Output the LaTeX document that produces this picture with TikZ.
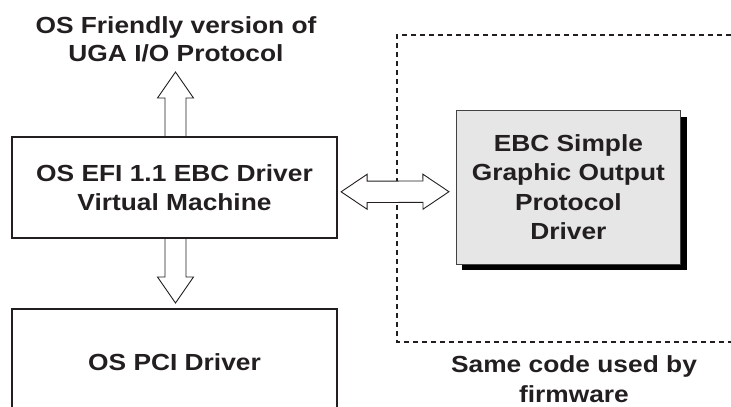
\documentclass[tikz,border=0pt]{standalone}
\usepackage{fontspec}
\setmainfont{Liberation Sans}
\usetikzlibrary{calc,shadows}

\pgfdeclarelayer{frame}
\pgfdeclarelayer{links}
\pgfsetlayers{frame,links,main}

\definecolor{ink}{HTML}{231F20}
\definecolor{panel}{HTML}{E6E6E6}

\newcommand\lblfont{\fontsize{23.3}{29.5}\selectfont\bfseries}
\newcommand\titlefont{\fontsize{23.3}{28}\selectfont\bfseries}

% hollow block arrow from #1 (open base) to #2 (tip)
\newcommand\hollowarrow[2]{%
  \path ($(#2)!26pt!(#1)$) coordinate (hb);
  \draw[hollow] ($(#1)!10.5pt!90:(#2)$) -- ($(hb)!10.5pt!90:(#2)$)
    -- ($(hb)!18pt!90:(#2)$) -- (#2) -- ($(hb)!18pt!-90:(#2)$)
    -- ($(hb)!10.5pt!-90:(#2)$) -- ($(#1)!10.5pt!-90:(#2)$);
}
% hollow block arrow with tips at both #1 and #2
\newcommand\hollowdouble[2]{%
  \path ($(#1)!26pt!(#2)$) coordinate (ha) ($(#2)!26pt!(#1)$) coordinate (hb);
  \draw[hollow] (#1) -- ($(ha)!17.5pt!90:(#2)$) -- ($(ha)!10.7pt!90:(#2)$)
    -- ($(hb)!10.7pt!90:(#2)$) -- ($(hb)!17.5pt!90:(#2)$) -- (#2)
    -- ($(hb)!17.5pt!-90:(#2)$) -- ($(hb)!10.7pt!-90:(#2)$)
    -- ($(ha)!10.7pt!-90:(#2)$) -- ($(ha)!17.5pt!-90:(#2)$) -- cycle;
}

\tikzset{
  txt/.style={text=ink, align=center, inner sep=0pt, xscale=1.13, transform shape},
  box/.style={txt, draw=ink, line width=2pt, font=\lblfont},
  hollow/.style={draw=ink, fill=white, line width=0.9pt, line join=miter},
  fwframe/.style={draw=ink, line width=2pt, dash pattern=on 5pt off 4pt},
}

\begin{document}
\begin{tikzpicture}[x=1pt, y=-1pt]
  \useasboundingbox (0,0) rectangle (731,407);

  % text and boxes
  \node[txt, font=\titlefont] (title) at (176,39)
    {OS Friendly version of\\UGA I/O Protocol};
  \node[box, minimum width=287.6pt, minimum height=101pt] (vm) at (174.5,187.5)
    {OS EFI 1.1 EBC Driver\\Virtual Machine};
  \node[box, minimum width=287.6pt, minimum height=107pt] (pci) at (174.5,362.5)
    {OS PCI Driver};
  \node[box, line width=0.8pt, draw=ink!85, fill=panel,
        minimum width=199.1pt, minimum height=153.3pt,
        drop shadow={shadow xshift=6pt, shadow yshift=-6pt, fill=black, opacity=1}]
    (sgo) at (568.4,187.4)
    {EBC Simple\\Graphic Output\\Protocol\\Driver};
  \node[txt, font=\lblfont] (fw) at (574,379) {Same code used by\\firmware};

  % firmware region, open to the right
  \begin{pgfonlayer}{frame}
    \draw[fwframe] (731,35) -- (397,35) -- (397,342) -- (731,342);
  \end{pgfonlayer}

  % block arrows
  \coordinate (upbase) at ($(vm.north)+(1,0)$);
  \coordinate (uptip) at (175.5,72);
  \coordinate (dnbase) at ($(vm.south)+(1,0)$);
  \coordinate (dntip) at ($(pci.north)+(1,-5)$);
  \coordinate (lt) at ($(vm.east)+(3,4.3)$);
  \coordinate (rt) at ($(sgo.west)+(-6.5,4.3)$);
  \begin{pgfonlayer}{links}
    \hollowarrow{upbase}{uptip}
    \hollowarrow{dnbase}{dntip}
    \hollowdouble{lt}{rt}
  \end{pgfonlayer}
\end{tikzpicture}
\end{document}
